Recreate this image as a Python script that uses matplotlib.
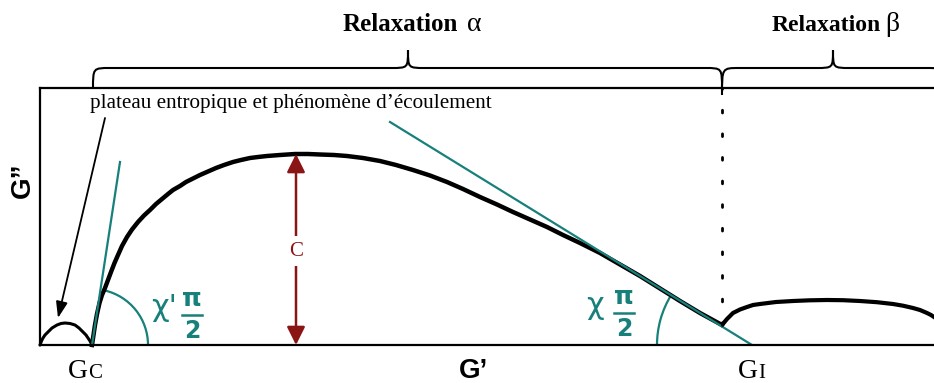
import matplotlib
matplotlib.use("Agg")
import matplotlib.pyplot as plt
from matplotlib.patches import Arc, PathPatch
from matplotlib.path import Path

# ---- Cole-Cole diagram data (G' horizontal, G'' vertical, arbitrary units) ----
# flow / entropic plateau arc below G_C
plateau_gp = [0, 1.5, 3, 5, 8, 12, 17, 21, 25, 30, 35, 39, 43, 46, 48, 50, 52]
plateau_gpp = [0, 4, 7, 10, 13, 17, 20, 21.5, 22, 21.5, 20, 17, 13, 10, 7, 4, 0]

# alpha relaxation arc, from G_C to the beta junction
alpha_gp = [52, 53.5, 55, 57, 59.5, 62, 65, 68, 71, 74.5, 78, 82, 87, 92, 98, 104,
            110, 116, 122, 128, 133, 140, 146, 153, 160, 168, 176, 184, 193, 201,
            210, 218, 227, 240, 255, 268, 280, 294, 307, 323, 340, 356, 373, 390,
            407, 423, 440, 457, 473, 490, 507, 523, 540, 560, 580, 600, 620, 640,
            660, 682]
alpha_gpp = [0, 10, 20, 31, 42, 50, 57, 65, 73, 82, 90, 99, 108, 115.5, 123, 129.5,
             135, 141, 146, 151, 155, 159, 163, 166.5, 170, 173.5, 177, 180, 183, 185,
             187, 188, 189, 190, 191, 191, 190.5, 190, 189, 187, 184, 180, 175, 169.5,
             163, 156, 148, 140.5, 133, 125.5, 118, 110, 102, 92, 80.5, 69, 56.5, 44,
             32, 20]

# beta relaxation arc
beta_gp = [682, 687, 693, 700, 707, 713, 720, 736, 753, 770, 787, 803, 820, 837,
           853, 863, 873, 880, 887, 891, 894]
beta_gpp = [20, 26, 32, 35.5, 38, 40, 41, 43, 44, 44.7, 45, 44.8, 44, 42.8,
            41, 39.3, 37, 35, 32, 30, 28]

# tangents at both ends of the alpha arc
tan_low_gp, tan_low_gpp = [52, 80], [0, 183]
tan_high_gp, tan_high_gpp = [350, 712], [223, 0]

# characteristic points
G_C = 52
G_I = 682
C_height = 191
C_pos = 256

TEAL = "#17807b"
DARKRED = "#8b1515"

fig = plt.figure(figsize=(9.34, 3.83), dpi=100)
ax = fig.add_axes([40 / 934, 38 / 383, 894 / 934, 257 / 383])
ax.set_xlim(0, 894)
ax.set_ylim(0, 257)
ax.set_xticks([])
ax.set_yticks([])
ax.spines["right"].set_visible(False)
for s in ("left", "top", "bottom"):
    ax.spines[s].set_linewidth(1.6)

# curves
ax.plot(plateau_gp, plateau_gpp, color="black", lw=2.2, solid_capstyle="round",
        solid_joinstyle="round", clip_on=False)
ax.plot(alpha_gp, alpha_gpp, color="black", lw=3.2, solid_joinstyle="round", clip_on=False)
ax.plot(beta_gp, beta_gpp, color="black", lw=3.0, solid_joinstyle="round", clip_on=False)

# tangents
ax.plot(tan_low_gp, tan_low_gpp, color=TEAL, lw=1.6)
ax.plot(tan_high_gp, tan_high_gpp, color=TEAL, lw=1.6)

# angle arcs
ax.add_patch(Arc((G_C, 0), 112, 112, theta1=0, theta2=77, color=TEAL, lw=1.6))
ax.add_patch(Arc((712, 0), 190, 190, theta1=148.4, theta2=180, color=TEAL, lw=1.6))

# G_I junction (dotted)
ax.plot([G_I, G_I], [20, 257], color="black", lw=2.0, linestyle=(0, (1, 7.5)),
        dash_capstyle="round")

# C arrow
ax.annotate("", xy=(C_pos, C_height), xytext=(C_pos, 0),
            arrowprops=dict(arrowstyle="<|-|>,head_length=1.0,head_width=0.5",
                            color=DARKRED, lw=1.8, mutation_scale=11,
                            shrinkA=0, shrinkB=0))
ax.text(C_pos, 94, "C", color=DARKRED, fontsize=15, family="Liberation Serif",
        ha="center", va="center",
        bbox=dict(boxstyle="square,pad=0.25", fc="white", ec="none"))

# angle labels
def angle_label(x_chi, y_chi, chi, x_frac, y_frac):
    ax.text(x_chi, y_chi, chi, color=TEAL, fontsize=22, family="DejaVu Sans",
            ha="left", va="center")
    ax.text(x_frac, y_frac + 16, "\u03c0", color=TEAL, fontsize=18, family="DejaVu Sans",
            weight="bold", ha="center", va="center")
    ax.plot([x_frac - 10, x_frac + 10], [y_frac, y_frac], color=TEAL, lw=1.8)
    ax.text(x_frac, y_frac - 16, "2", color=TEAL, fontsize=17, family="DejaVu Sans",
            weight="bold", ha="center", va="center")

angle_label(111, 37, "\u03c7'", 152, 30)
angle_label(546, 40, "\u03c7", 584, 32)

# annotation of the plateau
ax.text(50, 237, "plateau entropique et ph\u00e9nom\u00e8ne d\u2019\u00e9coulement",
        fontsize=15.2, family="Liberation Serif", ha="left", va="baseline")
ax.annotate("", xy=(18, 27), xytext=(65, 227),
            arrowprops=dict(arrowstyle="-|>,head_length=0.7,head_width=0.25",
                            color="black", lw=1.3, mutation_scale=14,
                            shrinkA=0, shrinkB=0))

# axis labels
ax.text(434, -33, "G\u2019", fontsize=20, family="Liberation Sans", weight="bold",
        ha="center", va="baseline", clip_on=False)
ax.text(-17, 165, "G\u201d", fontsize=20, family="Liberation Sans", weight="bold",
        ha="center", va="center", rotation=90, clip_on=False)
ax.text(G_C - 4, -33, "G", fontsize=20, family="Liberation Serif", ha="right",
        va="baseline", clip_on=False)
ax.text(G_C - 4, -33, "C", fontsize=15, family="Liberation Serif", ha="left",
        va="baseline", clip_on=False)
ax.text(G_I + 36, -33, "G", fontsize=20, family="Liberation Serif", ha="right",
        va="baseline", clip_on=False)
ax.text(G_I + 36, -33, "I", fontsize=15, family="Liberation Serif", ha="left",
        va="baseline", clip_on=False)

# braces above the plot
def brace(x0, xc, x1, y_base, y_mid, y_tip, r=17):
    verts = [
        (x0, y_base),
        (x0, y_mid), (x0, y_mid), (x0 + r, y_mid),
        (xc - r, y_mid),
        (xc, y_mid), (xc, y_mid), (xc, y_tip),
        (xc, y_mid), (xc, y_mid), (xc + r, y_mid),
        (x1 - r, y_mid),
        (x1, y_mid), (x1, y_mid), (x1, y_base),
    ]
    codes = [Path.MOVETO,
             Path.CURVE4, Path.CURVE4, Path.CURVE4,
             Path.LINETO,
             Path.CURVE4, Path.CURVE4, Path.CURVE4,
             Path.CURVE4, Path.CURVE4, Path.CURVE4,
             Path.LINETO,
             Path.CURVE4, Path.CURVE4, Path.CURVE4]
    ax.add_patch(PathPatch(Path(verts, codes), fc="none", ec="black", lw=1.5,
                           clip_on=False))

brace(53, 368, 682, 256, 277, 295)
brace(682, 793, 904, 250, 277, 295)

ax.text(303, 314, "Relaxation", fontsize=18, family="Liberation Serif", weight="bold",
        ha="left", va="baseline", clip_on=False)
ax.text(427, 314, "\u03b1", fontsize=20, family="Liberation Serif",
        ha="left", va="baseline", clip_on=False)
ax.text(732, 314, "Relaxation", fontsize=17, family="Liberation Serif", weight="bold",
        ha="left", va="baseline", clip_on=False)
ax.text(845, 314, "\u03b2", fontsize=20, family="Liberation Serif",
        ha="left", va="baseline", clip_on=False)

fig.savefig("out.png", dpi=100)
